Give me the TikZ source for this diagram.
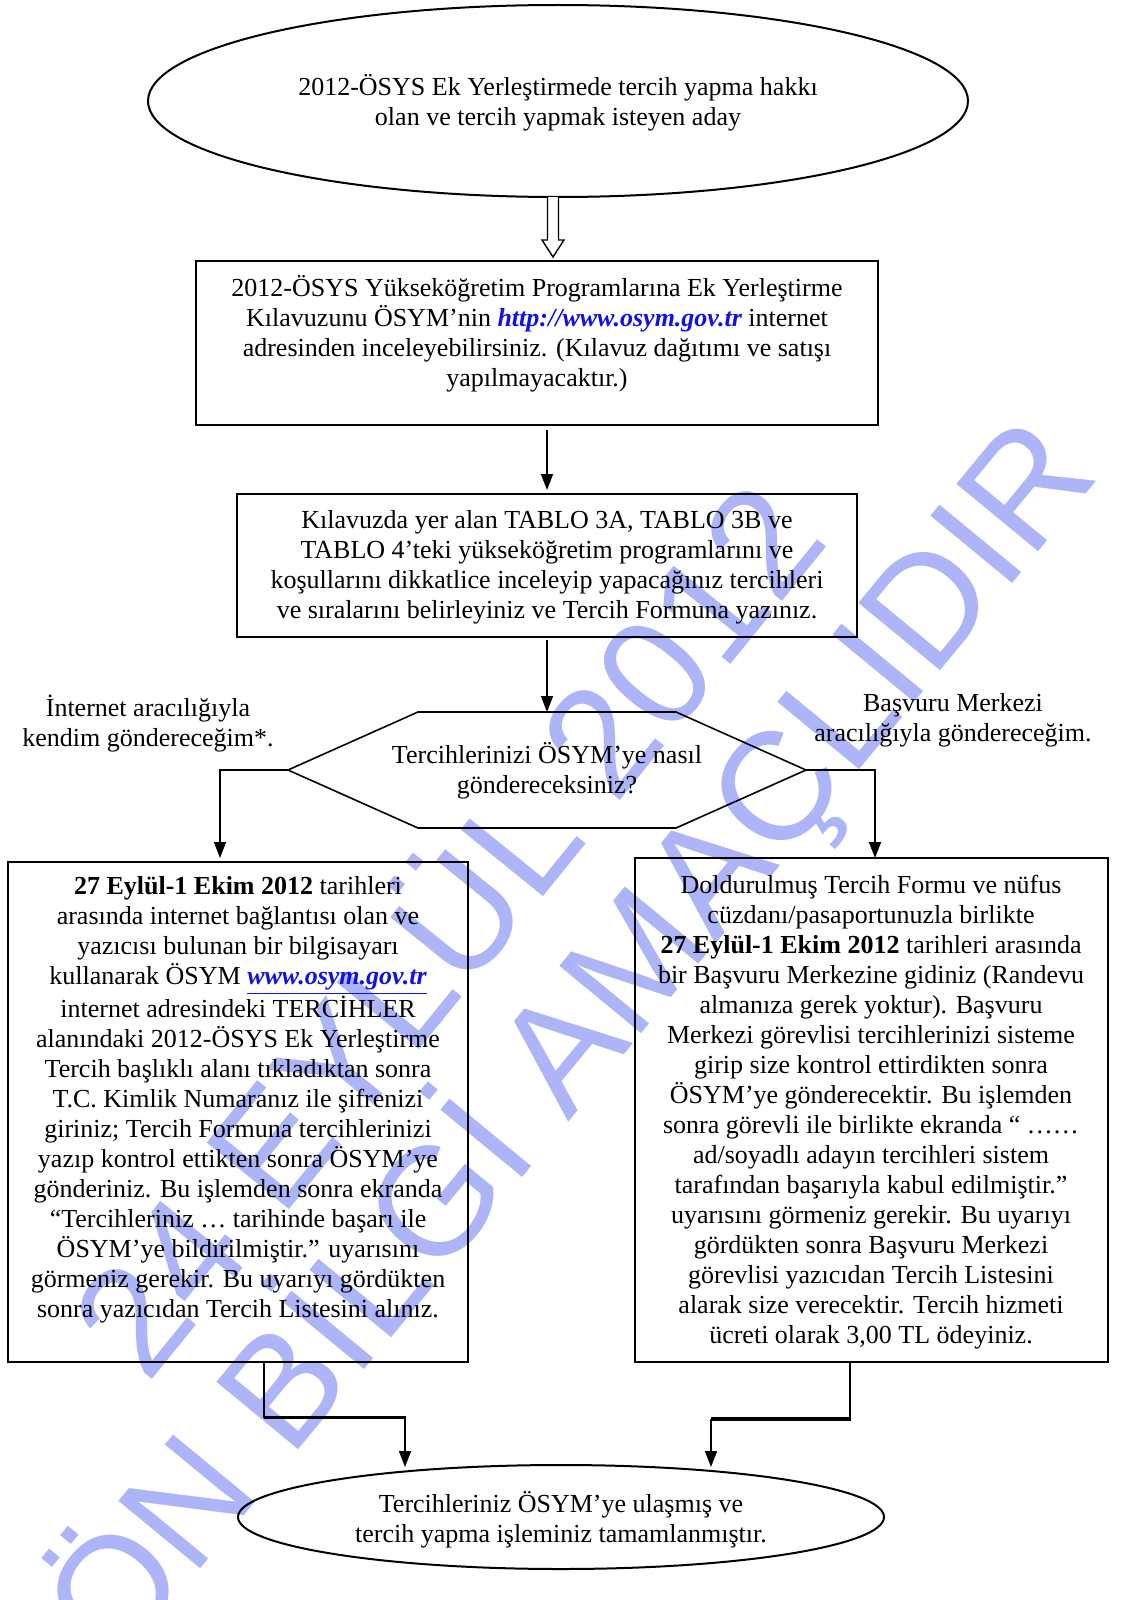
\documentclass[tikz,border=0pt]{standalone}
\usepackage{fontspec}
\setmainfont{Liberation Serif}
\newfontfamily\wmfont{Liberation Sans}
\usetikzlibrary{arrows.meta,shapes.geometric}
\definecolor{wm}{RGB}{173,181,248}
\definecolor{linkblue}{RGB}{16,16,235}
\begin{document}
\begin{tikzpicture}[x=0.5pt,y=-0.5pt,
  every node/.style={inner sep=0pt,outer sep=0pt},
  txt/.style={align=center,font=\fontsize{13}{15}\selectfont},
  boxnode/.style={draw,line width=1pt,rectangle},
  ellnode/.style={draw,line width=1pt,ellipse},
  arr/.style={line width=0.8pt,-{Triangle[width=6pt,length=8pt]}},
  wmtext/.style={text=wm,font=\wmfont\fontsize{77}{77}\selectfont}]
\useasboundingbox (0,0) rectangle (1135,1600);
% watermark
\node[wmtext,rotate=51] (wm1) at (440,923) {24 EYLÜL 2012};
\node[wmtext,rotate=50.5] (wm2) at (570,1041) {ÖN BİLGİ AMAÇLIDIR};
% shapes
\node[ellnode,minimum width=410pt,minimum height=96pt] (top) at (558,101) {};
\node[boxnode,minimum width=341pt,minimum height=82pt] (box1) at (537,343) {};
\node[boxnode,minimum width=310pt,minimum height=71.5pt] (box2) at (547,565.5) {};
\coordinate (hexL) at (288,770);
\coordinate (hexR) at (806,770);
\coordinate (hexT) at (547,712);
\draw[line width=0.8pt] (hexL) -- (418,712) -- (676,712) -- (hexR) -- (676,828) -- (418,828) -- cycle;
\node[boxnode,minimum width=230pt,minimum height=250pt] (lbox) at (238,1112) {};
\node[boxnode,minimum width=236.5pt,minimum height=252pt] (rbox) at (871.5,1110) {};
\node[ellnode,minimum width=323pt,minimum height=52pt] (bot) at (561,1517) {};
% texts
\node[txt] (t0) at (558,103) {2012-ÖSYS Ek Yerleştirmede tercih yapma hakkı\\olan ve tercih yapmak isteyen aday};
\node[txt] (t1) at (537,334) {2012-ÖSYS Yükseköğretim Programlarına Ek Yerleştirme\\Kılavuzunu ÖSYM'nin {\color{linkblue}\bfseries\itshape http://www.osym.gov.tr} internet\\adresinden inceleyebilirsiniz. (Kılavuz dağıtımı ve satışı\\yapılmayacaktır.)};
\node[txt] (t2) at (547,567) {Kılavuzda yer alan TABLO 3A, TABLO 3B ve\\TABLO 4’teki yükseköğretim programlarını ve\\koşullarını dikkatlice inceleyip yapacağınız tercihleri\\ve sıralarını belirleyiniz ve Tercih Formuna yazınız.};
\node[txt] (hex) at (547,771) {Tercihlerinizi ÖSYM’ye nasıl\\göndereceksiniz?};
\node[txt] (lab1) at (148,724) {İnternet aracılığıyla\\kendim göndereceğim*.};
\node[txt] (lab2) at (953,720) {Başvuru Merkezi\\aracılığıyla göndereceğim.};
\node[txt] (tl) at (238,1100) {\textbf{27 Eylül-1 Ekim 2012} tarihleri\\arasında internet bağlantısı olan ve\\yazıcısı bulunan bir bilgisayarı\\kullanarak ÖSYM {\color{linkblue}\bfseries\itshape\underline{www.osym.gov.tr}}\\internet adresindeki TERCİHLER\\alanındaki 2012-ÖSYS Ek Yerleştirme\\Tercih başlıklı alanı tıkladıktan sonra\\T.C. Kimlik Numaranız ile şifrenizi\\giriniz; Tercih Formuna tercihlerinizi\\yazıp kontrol ettikten sonra ÖSYM’ye\\gönderiniz. Bu işlemden sonra ekranda\\“Tercihleriniz … tarihinde başarı ile\\ÖSYM’ye bildirilmiştir.” uyarısını\\görmeniz gerekir. Bu uyarıyı gördükten\\sonra yazıcıdan Tercih Listesini alınız.};
\node[txt] (tr) at (871,1112) {Doldurulmuş Tercih Formu ve nüfus\\cüzdanı/pasaportunuzla birlikte\\\textbf{27 Eylül-1 Ekim 2012} tarihleri arasında\\bir Başvuru Merkezine gidiniz (Randevu\\almanıza gerek yoktur). Başvuru\\Merkezi görevlisi tercihlerinizi sisteme\\girip size kontrol ettirdikten sonra\\ÖSYM’ye gönderecektir. Bu işlemden\\sonra görevli ile birlikte ekranda “ ……\\ad/soyadlı adayın tercihleri sistem\\tarafından başarıyla kabul edilmiştir.”\\uyarısını görmeniz gerekir. Bu uyarıyı\\gördükten sonra Başvuru Merkezi\\görevlisi yazıcıdan Tercih Listesini\\alarak size verecektir. Tercih hizmeti\\ücreti olarak 3,00 TL ödeyiniz.};
\node[txt] (tb) at (561,1520) {Tercihleriniz ÖSYM’ye ulaşmış ve\\tercih yapma işleminiz tamamlanmıştır.};
% connectors
\draw[line width=0.7pt,fill=white] ([xshift=-2.5pt]top.south) ++(-5.5,0) -- ++(0,43) -- ++(-5.5,0) -- ++(11,17) -- ++(11,-17) -- ++(-5.5,0) -- ++(0,-43);
\draw[arr,shorten <=2.5pt,shorten >=2pt] (box1.south -| box2.north) -- (box2.north);
\draw[arr,shorten <=1.5pt] (box2.south) -- (hexT);
\draw[arr,shorten >=2pt] (hexL) -| ([xshift=-9pt]lbox.north);
\draw[arr] (hexR) -| ([xshift=1.75pt]rbox.north);
\draw[arr] ([xshift=13pt]lbox.south) -- ++(0,55) -| ([xshift=-78pt,yshift=-1pt]bot.north);
\draw[line width=1.5pt] ([xshift=13pt,yshift=-27.5pt]lbox.south) -| ([xshift=-78pt,yshift=-27.5pt]lbox.south -| bot.north);
\draw[arr] ([xshift=-10.75pt]rbox.south) -- ++(0,58) -| ([xshift=75pt,yshift=-1pt]bot.north);
\draw[line width=1.5pt] ([xshift=-10.75pt,yshift=-28pt]rbox.south) -- ([xshift=75pt,yshift=-28pt]rbox.south -| bot.north);
\draw[line width=0.8pt] ([xshift=-10.75pt,yshift=-28pt]rbox.south) -- ++(0,-3);
\end{tikzpicture}
\end{document}
